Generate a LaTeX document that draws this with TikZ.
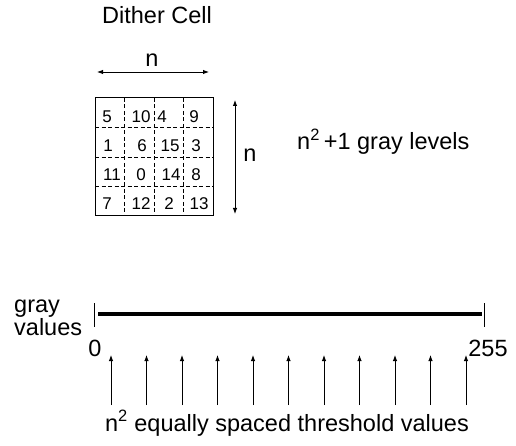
\documentclass[tikz,border=0pt]{standalone}
\usepackage{fontspec}
\setmainfont{Liberation Sans}
\usetikzlibrary{arrows.meta}
\begin{document}
\begin{tikzpicture}[x=1pt,y=-1pt,
  lbl/.style={inner sep=0pt,anchor=base,font=\fontsize{23.5}{28}\selectfont},
  num/.style={inner sep=0pt,anchor=base,font=\fontsize{17}{20}\selectfont},
  thin/.style={line width=0.9pt},
  arr/.style={thin,-{Latex[length=6pt,width=4.5pt]}},
  darr/.style={thin,{Latex[length=6pt,width=4.5pt]}-{Latex[length=6pt,width=4.5pt]}},
  gridline/.style={line width=0.8pt,dash pattern=on 4pt off 2.5pt}]
\useasboundingbox (0,0) rectangle (516,446);
% title
\node[lbl] (title) at (157,24) {Dither Cell};
% top arrow
\coordinate (ha) at (97,72);
\coordinate (hb) at (209,72);
\draw[darr] (ha) -- (hb);
\node[lbl] (nh) at (152,67) {n};
% grid
\coordinate (g0) at (95,98);
\coordinate (g1) at (213,216);
\foreach \i in {1,2,3}{
  \draw[gridline] (95+29.5*\i,98) -- (95+29.5*\i,216);
  \draw[gridline] (95,98+29.5*\i) -- (213,98+29.5*\i);
}
\draw[line width=1pt] (g0) rectangle (g1);
% numbers
\node[num] (c11) at (107,123) {5};
\node[num] (c12) at (141,123) {10};
\node[num] (c13) at (162,123) {4};
\node[num] (c14) at (194,123) {9};
\node[num] (c21) at (108,152) {1};
\node[num] (c22) at (142,152) {6};
\node[num] (c23) at (170,152) {15};
\node[num] (c24) at (196,152) {3};
\node[num] (c31) at (112,181) {11};
\node[num] (c32) at (141,181) {0};
\node[num] (c33) at (171,181) {14};
\node[num] (c34) at (196,181) {8};
\node[num] (c41) at (107,210) {7};
\node[num] (c42) at (141,210) {12};
\node[num] (c43) at (169,210) {2};
\node[num] (c44) at (199,210) {13};
% vertical arrow
\coordinate (va) at (235,100);
\coordinate (vb) at (235,214);
\draw[darr] (va) -- (vb);
\node[lbl] (nv) at (250,162) {n};
% gray levels
\node[lbl,anchor=base west] (levels) at (297,150) {n\textsuperscript{2}\,+1 gray levels};
% gray values axis
\node[lbl,anchor=base west] (gray) at (14,312) {gray};
\node[lbl,anchor=base west] (values) at (14,335) {values};
\coordinate (t0a) at (94,303);
\coordinate (t0b) at (94,327);
\coordinate (t1a) at (484,303);
\coordinate (t1b) at (484,327);
\draw[thin] (t0a) -- (t0b);
\draw[thin] (t1a) -- (t1b);
\coordinate (la) at (98,314);
\coordinate (lb) at (482,314);
\draw[line width=4pt] (la) -- (lb);
\node[lbl] (zero) at (95,356) {0};
\node[lbl] (ff) at (488,356) {255};
% threshold arrows
\foreach \k in {0,...,10}{
  \coordinate (s\k) at (111+35.5*\k,405);
  \coordinate (e\k) at (111+35.5*\k,355);
  \draw[arr] (s\k) -- (e\k);
}
\node[lbl] (thr) at (287,431) {n\textsuperscript{2} equally spaced threshold values};
\end{tikzpicture}
\end{document}
